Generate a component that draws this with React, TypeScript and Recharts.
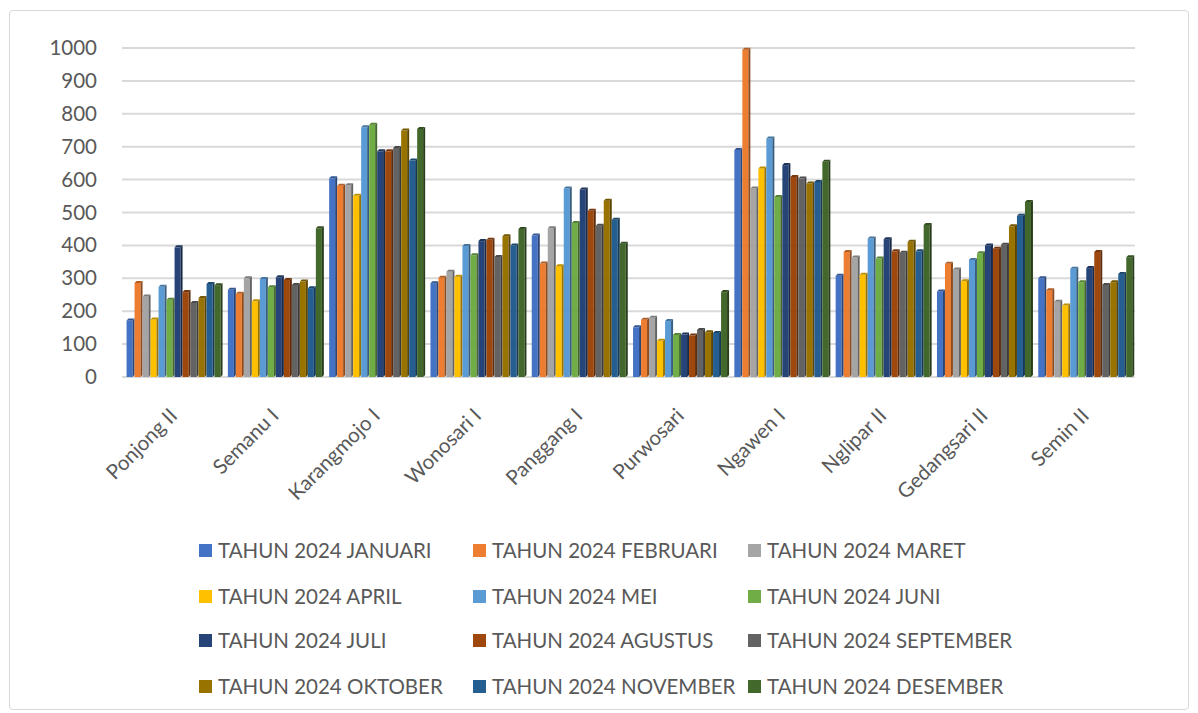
import React from 'react';
import { BarChart, Bar, XAxis, YAxis, CartesianGrid } from 'recharts';

const categories = [
  'Ponjong II',
  'Semanu I',
  'Karangmojo I',
  'Wonosari I',
  'Panggang I',
  'Purwosari',
  'Ngawen I',
  'Nglipar II',
  'Gedangsari II',
  'Semin II',
];

const januari = [172, 265, 604, 285, 430, 151, 690, 308, 260, 300];
const februari = [286, 253, 581, 302, 345, 174, 995, 380, 344, 264];
const maret = [245, 300, 583, 320, 452, 180, 573, 363, 327, 229];
const april = [175, 230, 551, 305, 337, 110, 634, 311, 291, 217];
const mei = [274, 298, 759, 398, 573, 170, 725, 421, 356, 329];
const juni = [235, 273, 767, 370, 468, 128, 547, 360, 376, 288];
const juli = [394, 303, 686, 413, 570, 129, 644, 419, 400, 331];
const agustus = [258, 295, 686, 417, 505, 126, 608, 382, 390, 380];
const september = [225, 280, 696, 365, 460, 143, 603, 378, 402, 280];
const oktober = [240, 290, 749, 428, 536, 136, 588, 411, 458, 288];
const november = [283, 270, 658, 400, 478, 134, 593, 382, 490, 313];
const desember = [279, 452, 754, 450, 405, 258, 654, 462, 532, 364];

const yTicks = [0, 100, 200, 300, 400, 500, 600, 700, 800, 900, 1000];

const series = [
  { key: 'jan', name: 'TAHUN 2024 JANUARI', values: januari, color: '#4472C4' },
  { key: 'feb', name: 'TAHUN 2024 FEBRUARI', values: februari, color: '#ED7D31' },
  { key: 'mar', name: 'TAHUN 2024 MARET', values: maret, color: '#A5A5A5' },
  { key: 'apr', name: 'TAHUN 2024 APRIL', values: april, color: '#FFC000' },
  { key: 'mei', name: 'TAHUN 2024 MEI', values: mei, color: '#5B9BD5' },
  { key: 'jun', name: 'TAHUN 2024 JUNI', values: juni, color: '#70AD47' },
  { key: 'jul', name: 'TAHUN 2024 JULI', values: juli, color: '#264478' },
  { key: 'agu', name: 'TAHUN 2024 AGUSTUS', values: agustus, color: '#9E480E' },
  { key: 'sep', name: 'TAHUN 2024 SEPTEMBER', values: september, color: '#636363' },
  { key: 'okt', name: 'TAHUN 2024 OKTOBER', values: oktober, color: '#997300' },
  { key: 'nov', name: 'TAHUN 2024 NOVEMBER', values: november, color: '#255E91' },
  { key: 'des', name: 'TAHUN 2024 DESEMBER', values: desember, color: '#43682B' },
];

const data = categories.map((name, i) => {
  const row: any = { name };
  series.forEach((s) => {
    row[s.key] = s.values[i];
  });
  return row;
});

const FONT = 'Lato, "Liberation Sans", sans-serif';
const TEXT = '#595959';

const darken = (hex: string, f: number) => {
  const n = parseInt(hex.slice(1), 16);
  const r = Math.round(((n >> 16) & 255) * f);
  const g = Math.round(((n >> 8) & 255) * f);
  const b = Math.round((n & 255) * f);
  return `rgb(${r},${g},${b})`;
};

// bar with a small fake 3d side and top, like the office chart
const Bar3D = (props: any) => {
  const { x, y, width, height, fill } = props;
  if (!height || height <= 0) return null;
  const d = 2;
  const w = width - d;
  return (
    <g>
      <rect x={x} y={y} width={w} height={height} fill={fill} />
      <polygon
        points={`${x + w},${y} ${x + w + d},${y - d} ${x + w + d},${y + height - d} ${x + w},${y + height}`}
        fill={darken(fill, 0.6)}
      />
      <polygon
        points={`${x},${y} ${x + d},${y - d} ${x + w + d},${y - d} ${x + w},${y}`}
        fill={darken(fill, 0.75)}
      />
    </g>
  );
};

const YTick = (props: any) => {
  const { y, payload } = props;
  return (
    <text x={97} y={y} dy={7} textAnchor="end" fill={TEXT} fontSize={20.5} fontFamily={FONT}>
      {payload.value}
    </text>
  );
};

const XTick = (props: any) => {
  const { x, y, payload } = props;
  const tx = x + 6;
  const ty = y + 32;
  return (
    <text
      x={tx}
      y={ty}
      textAnchor="end"
      transform={`rotate(-45, ${tx}, ${ty})`}
      fill={TEXT}
      fontSize={20.5}
      fontFamily={FONT}
    >
      {payload.value}
    </text>
  );
};

const colX = [199, 473, 748];
const rowY = [550, 596, 640, 686];

export default function App() {
  return (
    <div style={{ position: 'absolute', left: 0, top: 0, width: 1198, height: 713, background: '#fff' }}>
      <div
        style={{
          position: 'absolute',
          left: 9,
          top: 10,
          width: 1180,
          height: 700,
          border: '1px solid #d9d9d9',
          borderRadius: 4,
          boxSizing: 'border-box',
        }}
      />
      <div style={{ position: 'absolute', left: 0, top: 0 }}>
        <BarChart
          width={1198}
          height={713}
          data={data}
          margin={{ top: 48, right: 63, bottom: 0, left: 0 }}
          barCategoryGap="4.5%"
          barGap={0}
        >
          <CartesianGrid vertical={false} stroke="#d9d9d9" strokeWidth={2} />
          <YAxis
            width={122}
            domain={[0, 1000]}
            ticks={yTicks}
            axisLine={false}
            tickLine={false}
            tick={<YTick />}
            interval={0}
          />
          <XAxis
            dataKey="name"
            height={336}
            axisLine={false}
            tickLine={false}
            interval={0}
            tick={<XTick />}
          />
          {series.map((s) => (
            <Bar
              key={s.key}
              dataKey={s.key}
              name={s.name}
              fill={s.color}
              isAnimationActive={false}
              shape={<Bar3D />}
            />
          ))}
        </BarChart>
      </div>
      {series.map((s, i) => (
        <div
          key={s.key}
          style={{
            position: 'absolute',
            left: colX[i % 3],
            top: rowY[Math.floor(i / 3)] - 12,
            height: 24,
            display: 'flex',
            alignItems: 'center',
            fontFamily: FONT,
            fontSize: 20.5,
            color: TEXT,
            whiteSpace: 'nowrap',
          }}
        >
          <span style={{ display: 'inline-block', width: 13, height: 13, background: s.color, marginRight: 6 }} />
          {s.name}
        </div>
      ))}
    </div>
  );
}
